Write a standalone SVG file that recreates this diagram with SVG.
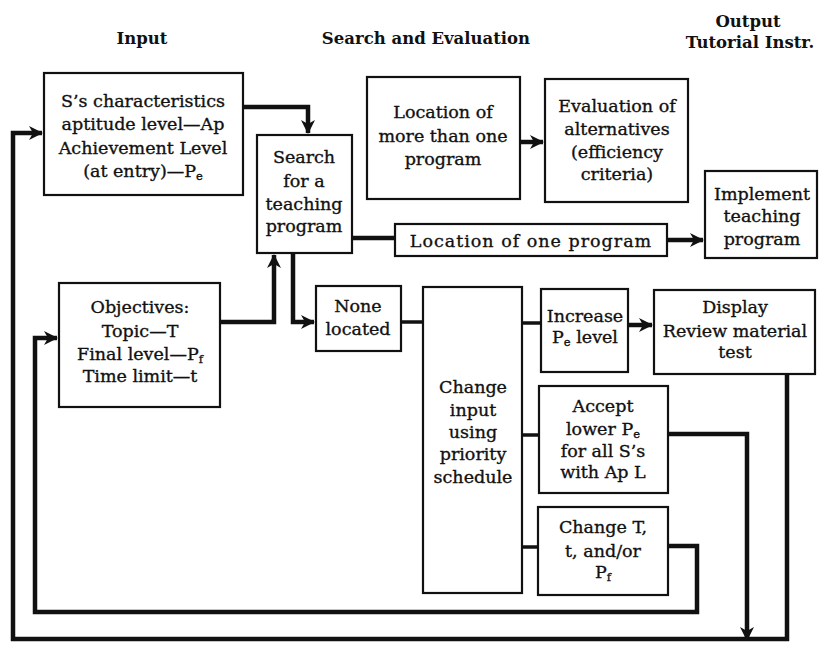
<svg xmlns="http://www.w3.org/2000/svg" width="819" height="645" viewBox="0 0 819 645">
<style>
.box{fill:#fff;stroke:#111;stroke-width:2.2}
text{font-family:"DejaVu Serif","Liberation Serif",serif;font-size:17.5px;fill:#111;stroke:#111;stroke-width:0.35;text-anchor:middle}
.hd{font-size:16.5px;font-weight:bold;stroke-width:0}
.sub{font-size:11.5px}
.c{fill:none;stroke:#111;stroke-width:4.5;stroke-linejoin:miter}
.t{fill:none;stroke:#111;stroke-width:3.5}
</style>
<defs>
<marker id="ah" markerUnits="userSpaceOnUse" markerWidth="16" markerHeight="16" refX="13" refY="7" orient="auto">
<path d="M0,0 L14,7 L0,14 L4,7 z" fill="#111"/>
</marker>
</defs>
<rect width="819" height="645" fill="#fff"/>
<g id="headers">
<text class="hd" x="142" y="44">Input</text>
<text class="hd" x="426" y="44">Search and Evaluation</text>
<text class="hd" x="748" y="27">Output</text>
<text class="hd" x="750" y="48">Tutorial Instr.</text>
</g>
<g id="connectors">
<path class="c" d="M243,107 H308 V133" marker-end="url(#ah)"/>
<path class="c" d="M220,322 H274 V255" marker-end="url(#ah)"/>
<path class="c" d="M293,253 V322 H314" marker-end="url(#ah)"/>
<path class="t" d="M401,322 H423"/>
<path class="c" d="M352,238 H395"/>
<path class="c" d="M667,240 H703" marker-end="url(#ah)"/>
<path class="c" d="M520,142 H543" marker-end="url(#ah)"/>
<path class="t" d="M522,323 H541"/>
<path class="c" d="M628,325 H652" marker-end="url(#ah)"/>
<path class="t" d="M522,435 H539"/>
<path class="t" d="M522,547 H538"/>
<path class="c" d="M668,434 H747 V640" marker-end="url(#ah)"/>
<path class="c" d="M787,374 V639 H13 V133 H42" marker-end="url(#ah)"/>
<path class="c" d="M668,546 H697 V612 H35 V338 H57" marker-end="url(#ah)"/>
</g>
<g id="s-characteristics">
<rect class="box" x="44" y="73" width="199" height="122"/>
<text x="143" y="107">S’s characteristics</text>
<text x="143" y="130">aptitude level—Ap</text>
<text x="143" y="154">Achievement Level</text>
<text x="143" y="177">(at entry)—P<tspan class="sub" dy="3">e</tspan></text>
</g>
<g id="search">
<rect class="box" x="257" y="135" width="95" height="118"/>
<text x="304" y="163">Search</text>
<text x="304" y="187">for a</text>
<text x="304" y="210">teaching</text>
<text x="304" y="232">program</text>
</g>
<g id="location-more">
<rect class="box" x="367" y="77" width="153" height="122"/>
<text x="443" y="118">Location of</text>
<text x="443" y="142">more than one</text>
<text x="443" y="165">program</text>
</g>
<g id="evaluation">
<rect class="box" x="545" y="79" width="143" height="123"/>
<text x="617" y="112">Evaluation of</text>
<text x="617" y="135">alternatives</text>
<text x="617" y="158">(efficiency</text>
<text x="617" y="180">criteria)</text>
</g>
<g id="implement">
<rect class="box" x="705" y="171" width="112" height="87"/>
<text x="762" y="200">Implement</text>
<text x="762" y="222">teaching</text>
<text x="762" y="245">program</text>
</g>
<g id="location-one">
<rect class="box" x="395" y="224" width="272" height="32"/>
<text x="531" y="247" style="letter-spacing:1px">Location of one program</text>
</g>
<g id="objectives">
<rect class="box" x="59" y="283" width="161" height="124"/>
<text x="140" y="313">Objectives:</text>
<text x="140" y="337">Topic—T</text>
<text x="140" y="360">Final level—P<tspan class="sub" dy="3">f</tspan></text>
<text x="140" y="382">Time limit—t</text>
</g>
<g id="none-located">
<rect class="box" x="316" y="286" width="85" height="65"/>
<text x="358" y="312">None</text>
<text x="358" y="335">located</text>
</g>
<g id="change-input">
<rect class="box" x="423" y="287" width="99" height="306"/>
<text x="473" y="393">Change</text>
<text x="473" y="416">input</text>
<text x="473" y="438">using</text>
<text x="473" y="460">priority</text>
<text x="473" y="483">schedule</text>
</g>
<g id="increase">
<rect class="box" x="541" y="289" width="87" height="83"/>
<text x="585" y="322">Increase</text>
<text x="585" y="343">P<tspan class="sub" dy="3">e</tspan><tspan dy="-3"> level</tspan></text>
</g>
<g id="display">
<rect class="box" x="654" y="290" width="161" height="84"/>
<text x="735" y="313">Display</text>
<text x="735" y="337">Review material</text>
<text x="735" y="358">test</text>
</g>
<g id="accept">
<rect class="box" x="539" y="386" width="129" height="107"/>
<text x="603" y="412">Accept</text>
<text x="603" y="435">lower P<tspan class="sub" dy="3">e</tspan></text>
<text x="603" y="457">for all S’s</text>
<text x="603" y="478">with Ap L</text>
</g>
<g id="change-t">
<rect class="box" x="538" y="507" width="130" height="88"/>
<text x="603" y="533">Change T,</text>
<text x="603" y="557">t, and/or</text>
<text x="603" y="578">P<tspan class="sub" dy="3">f</tspan></text>
</g>
</svg>
